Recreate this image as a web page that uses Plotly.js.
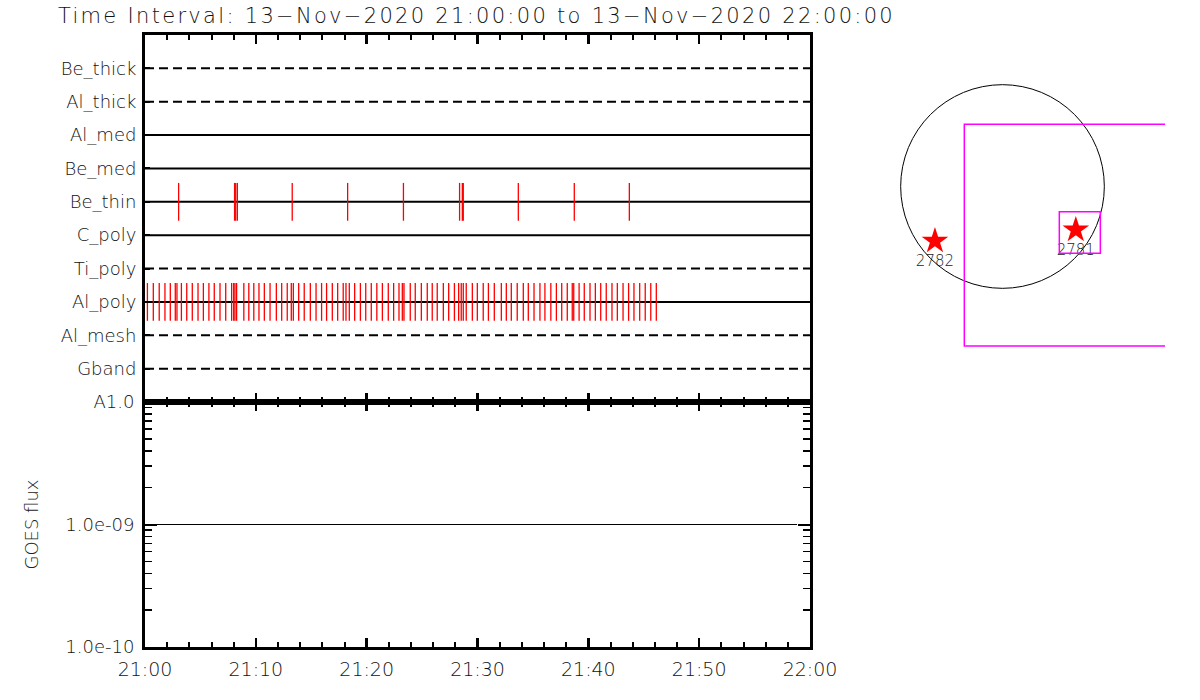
<!DOCTYPE html>
<html><head><meta charset="utf-8">
<script src="https://cdn.plot.ly/plotly-3.0.1.min.js"></script>
<style>
html,body{margin:0;padding:0;background:#fff}
.gtitle{letter-spacing:2.3px}
</style>
</head><body>
<div id="chart" style="width:1200px;height:700px"></div>
<script>
// ---- data ----
const day = '2020-11-13 ';
const timeRange = ['21:00:00', '22:00:00'];
const detectors = ['Be_thick','Al_thick','Al_med','Be_med','Be_thin','C_poly','Ti_poly','Al_poly','Al_mesh','Gband'];
const detectorRow = [10, 9, 8, 7, 6, 5, 4, 3, 2, 1];
const detectorDashed = [true, true, false, false, false, false, true, false, true, true];
// event times, seconds after 21:00:00
const beThinSec = [182, 485, 491, 500, 797, 1097, 1399, 1703, 1718, 1723, 2021, 2324, 2622];
const alPolySec = [13, 45, 77, 108, 137, 164, 173, 197, 226, 256, 287, 316, 346, 375, 406, 437, 469, 480, 487, 496,
  535, 562, 589, 617, 646, 677, 711, 740, 770, 792, 803, 832, 862, 895, 926, 956, 983, 1014, 1043, 1073, 1088, 1106,
  1135, 1166, 1195, 1225, 1255, 1285, 1317, 1346, 1375, 1393, 1402, 1436, 1463, 1496, 1528, 1555, 1582, 1615, 1644,
  1675, 1698, 1712, 1723, 1739, 1772, 1799, 1831, 1859, 1891, 1929, 1956, 1983, 2015, 2048, 2075, 2106, 2138, 2165,
  2197, 2227, 2256, 2286, 2313, 2321, 2350, 2378, 2409, 2438, 2467, 2497, 2528, 2557, 2588, 2618, 2647, 2678, 2708,
  2738, 2768];
const goesTime = ['21:00:00', '21:58:50'];
const goesFlux = [1e-9, 1e-9];
const fluxTickVals = [1e-10, 1e-9, 1e-8];
const fluxTickText = ['1.0e-10', '1.0e-09', 'A1.0'];
const fluxMinorVals = [2e-10,3e-10,4e-10,5e-10,6e-10,7e-10,8e-10,9e-10,2e-9,3e-9,4e-9,5e-9,6e-9,7e-9,8e-9,9e-9];
// solar map (arcsec)
const rsun = 968;
const arNames = ['2782', '2781'];
const arX = [-642, 697];
const arY = [-518, -413];
const fovX0 = [-363, 540];
const fovX1 = [2000, 930];
const fovY0 = [-1516, -635];
const fovY1 = [591, -240];

// ---- helpers ----
function secToTime(s) {
  const h = 21 + Math.floor(s / 3600), m = Math.floor((s % 3600) / 60), sec = s % 60;
  const p = v => String(v).padStart(2, '0');
  return day + p(h) + ':' + p(m) + ':' + p(sec);
}
const FONT = 'DejaVu Sans, Liberation Sans, sans-serif';
const WT = 200;
const xr = timeRange.map(t => day + t);
const traces = [];

detectors.forEach((d, i) => {
  traces.push({
    type: 'scatter', mode: 'lines', xaxis: 'x', yaxis: 'y',
    x: xr, y: [detectorRow[i], detectorRow[i]],
    line: {color: '#000', width: 2, dash: detectorDashed[i] ? '9px,5px' : 'solid'},
    hoverinfo: 'skip'
  });
});
function tickTrace(secs, det) {
  const row = detectorRow[detectors.indexOf(det)];
  return {
    type: 'scatter', mode: 'markers', xaxis: 'x', yaxis: 'y',
    x: secs.map(secToTime), y: secs.map(() => row),
    marker: {symbol: 'line-ns', size: 27, color: '#ff0000', line: {color: '#ff0000', width: 1.3}},
    cliponaxis: false
  };
}
traces.push(tickTrace(beThinSec, 'Be_thin'));
traces.push(tickTrace(alPolySec, 'Al_poly'));

traces.push({
  type: 'scatter', mode: 'lines', xaxis: 'x2', yaxis: 'y2',
  x: goesTime.map(t => day + t), y: goesFlux, line: {color: '#000', width: 1}
});

traces.push({
  type: 'scatter', mode: 'markers+text', xaxis: 'x3', yaxis: 'y3',
  x: arX, y: arY, text: arNames, textposition: 'bottom center',
  marker: {symbol: 'star', size: 20, color: '#ff0000', line: {width: 0}},
  textfont: {family: FONT, size: 15, color: '#222', weight: WT}, cliponaxis: false
});

const shapes = [{
  type: 'circle', xref: 'x3', yref: 'y3',
  x0: -rsun, x1: rsun, y0: -rsun, y1: rsun, line: {color: '#000', width: 1}
}];
fovX0.forEach((x0, i) => shapes.push({
  type: 'rect', xref: 'x3', yref: 'y3', x0: x0, x1: fovX1[i], y0: fovY0[i], y1: fovY1[i],
  line: {color: '#ff00ff', width: 1.5}
}));

const W = 1200, H = 700;
const px = v => v / W, py = v => (H - v) / H;
const xDom = [px(145), px(810)];
const axCommon = {
  showline: true, linecolor: '#000', linewidth: 3, mirror: 'allticks',
  ticks: 'inside', tickcolor: '#000', showgrid: false, zeroline: false
};
const TC = '#000';
const layout = {
  width: W, height: H, margin: {l: 0, r: 0, t: 0, b: 0}, autosize: false,
  paper_bgcolor: '#fff', plot_bgcolor: 'rgba(0,0,0,0)', showlegend: false,
  font: {family: FONT, color: '#111', weight: WT},
  title: {
    text: 'Time Interval: 13\u2212Nov\u22122020 21:00:00 to 13\u2212Nov\u22122020 22:00:00',
    x: 58 / W, xanchor: 'left', y: 1 - 16 / H, yanchor: 'middle', xref: 'container', yref: 'container',
    font: {family: FONT, size: 21, color: '#111', weight: WT}
  },
  xaxis: Object.assign({}, axCommon, {
    type: 'date', range: xr, domain: xDom, anchor: 'y',
    showticklabels: false, tick0: xr[0], dtick: 600000, ticklen: 9, tickwidth: 2.5, tickcolor: TC,
    minor: {dtick: 120000, ticklen: 5, tickwidth: 2, ticks: 'inside', tickcolor: TC}
  }),
  yaxis: Object.assign({}, axCommon, {
    range: [0, 11], domain: [py(402), py(35)], anchor: 'x',
    tickmode: 'array', tickvals: detectorRow, ticktext: detectors, ticklen: 5, tickwidth: 2,
    tickfont: {family: FONT, size: 18, color: '#111', weight: WT}, ticklabelstandoff: 2, mirror: true
  }),
  xaxis2: Object.assign({}, axCommon, {
    type: 'date', range: xr, domain: xDom, anchor: 'y2',
    tick0: xr[0], dtick: 600000, tickformat: '%H:%M', ticklen: 9, tickwidth: 2.5, tickcolor: TC,
    tickfont: {family: FONT, size: 19, color: '#111', weight: WT}, ticklabelstandoff: 3,
    minor: {dtick: 120000, ticklen: 5, tickwidth: 2, ticks: 'inside', tickcolor: TC}
  }),
  yaxis2: Object.assign({}, axCommon, {
    type: 'log', range: [-10, -8.0], domain: [py(647), py(402)], anchor: 'x2',
    tickmode: 'array', tickvals: fluxTickVals, ticktext: fluxTickText, ticklen: 12, tickwidth: 2,
    tickfont: {family: FONT, size: 18, color: '#111', weight: WT}, ticklabelstandoff: 4,
    minor: {tickmode: 'array', tickvals: fluxMinorVals, ticklen: 7, tickwidth: 1.5, ticks: 'inside', tickcolor: '#000'},
    title: {text: 'GOES flux', font: {family: FONT, size: 18, color: '#222', weight: WT}, standoff: 22}
  }),
  xaxis3: {
    visible: false, domain: [px(880), px(1165)], anchor: 'y3',
    range: [(880 - 1002.5) / 0.1052, (1165 - 1002.5) / 0.1052]
  },
  yaxis3: {
    visible: false, domain: [py(360), py(70)], anchor: 'x3',
    range: [(186.5 - 360) / 0.1052, (186.5 - 70) / 0.1052]
  },
  shapes: shapes
};
Plotly.newPlot('chart', traces, layout, {staticPlot: true, displayModeBar: false});
</script>
</body></html>
